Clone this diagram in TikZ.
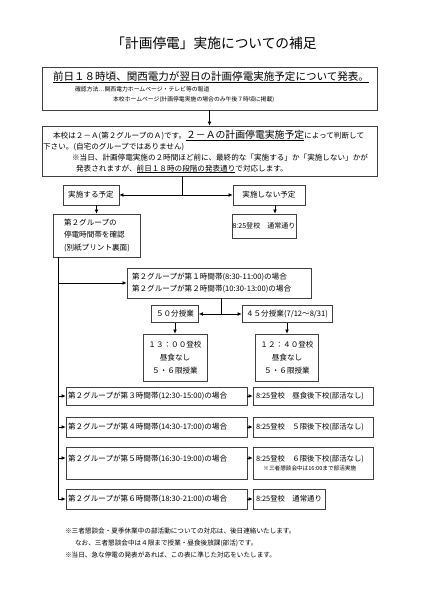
\documentclass[tikz,border=0pt]{standalone}
\usepackage{fontspec}
\setmainfont{Noto Sans CJK JP}
\usetikzlibrary{arrows.meta, positioning, calc}

\begin{document}
\begin{tikzpicture}[x=0.5mm, y=-0.5mm,
  box/.style={draw=black!75, line width=0.6pt, rectangle, inner sep=1pt},
  arr/.style={-{Latex[length=6pt,width=5.5pt]}, line width=1.4pt},
  link/.style={line width=1.4pt},
  txt/.style={font=\fontsize{10.8}{13}\selectfont},
  note/.style={anchor=base west, inner sep=0pt},
  row/.style={box, txt, align=left, inner xsep=1mm, text width=88.5mm},
  res/.style={box, align=left, inner xsep=1.5mm, text width=57mm, font=\fontsize{10.5}{13}\selectfont}]
\useasboundingbox (0,0) rectangle (420,594);

% Title
\node[font=\fontsize{19.5}{23}\selectfont] (title) at (214,43) {「計画停電」実施についての補足};

% Nodes
\node[box, minimum width=167.5mm, minimum height=21.5mm] (info) at (209.5,88.5) {};
\node[box, minimum width=167.5mm, minimum height=25mm] (rule) at (209.5,151) {};
\node[box, txt, minimum width=28mm, minimum height=10mm] (yes) at (91,195) {実施する予定};
\node[box, txt, minimum width=36mm, minimum height=10mm] (no) at (269,195) {実施しない予定};
\node[box, align=left, inner xsep=5.5mm, text width=32.5mm, minimum height=21.5mm, font=\fontsize{10.8}{17.5}\selectfont] (check) at (96.5,235.5) {第２グループの\\停電時間帯を確認\\(別紙プリント裏面)};
\node[box, font=\fontsize{10}{12}\selectfont, minimum width=32mm, minimum height=12mm] (done) at (264,226) {8:25登校　通常通り};
\node[box, align=left, inner xsep=2.5mm, text width=87mm, minimum height=15mm, font=\fontsize{10.8}{18}\selectfont] (g12) at (219,283) {第２グループが第１時間帯(8:30-11:00)の場合\\第２グループが第２時間帯(10:30-13:00)の場合};
\node[box, txt, minimum width=23.5mm, minimum height=8.5mm] (m50) at (175,314) {５０分授業};
\node[box, txt, minimum width=45mm, minimum height=8.5mm] (m45) at (287,314) {４５分授業(7/12～8/31)};
\node[box, align=center, minimum width=32mm, minimum height=23.5mm, font=\fontsize{10.8}{18}\selectfont] (t13) at (175,357.5) {１３：００登校\\昼食なし\\５・６限授業};
\node[box, align=center, minimum width=31.5mm, minimum height=23.5mm, font=\fontsize{10.8}{18}\selectfont] (t12) at (287,357.5) {１２：４０登校\\昼食なし\\５・６限授業};

\node[row, minimum height=9mm] (l1) at (156.5,396) {第２グループが第３時間帯(12:30-15:00)の場合};
\node[row, minimum height=10mm] (l2) at (156.5,427) {第２グループが第４時間帯(14:30-17:00)の場合};
\node[row, minimum height=16mm] (l3) at (156.5,463) {第２グループが第５時間帯(16:30-19:00)の場合\\\phantom{※}};
\node[row, minimum height=10mm] (l4) at (156.5,499) {第２グループが第６時間帯(18:30-21:00)の場合};
\node[res, minimum height=9mm] (r1) at (313,396) {8:25登校　昼食後下校(部活なし)};
\node[res, minimum height=10mm] (r2) at (313,427) {8:25登校　５限後下校(部活なし)};
\node[res, minimum height=16mm] (r3) at (313,463) {8:25登校　６限後下校(部活なし)\\\hspace*{1em}{\fontsize{8}{9}\selectfont ※三者懇談会中は16:00まで部活実施}};
\node[res, minimum height=10mm, text width=33mm] (r4) at (289,499) {8:25登校　通常通り};

% Arrows
\draw[arr] (info) -- (rule);
\coordinate (fork) at (182,195);
\draw[link] (rule.south -| fork) -- (fork);
\draw[arr] (fork) -- (yes);
\draw[arr] (fork) -- (no);
\draw[arr] (yes.south -| check) -- (check);
\draw[arr] ([xshift=3mm]no.south) -- ([xshift=3mm]no.south |- done.north);
\coordinate (trunk) at (58,257);
\draw[arr] (trunk) |- (l4);
\draw[arr] (trunk |- g12) -- (g12);
\draw[arr] (trunk |- l1) -- (l1);
\draw[arr] (trunk |- l2) -- (l2);
\draw[arr] ([yshift=2.5mm]l3.west -| trunk) -- ([yshift=2.5mm]l3.west);
\coordinate (split) at (221,314);
\draw[link] (g12.south -| split) -- (split);
\draw[arr] (split) -- (m50);
\draw[arr] (split) -- (m45);
\draw[arr] (m50) -- (t13);
\draw[arr] (m45) -- (t12);
\draw[arr] (l1) -- (r1);
\draw[arr] (l2) -- (r2);
\draw[arr] ([yshift=2.5mm]l3.east) -- ([yshift=2.5mm]r3.west);
\draw[arr] (l4) -- (r4);

% Annotations
\node[anchor=base, inner sep=0pt, font=\fontsize{15}{18}\selectfont] (head) at (211,80) {\underline{前日１８時頃、関西電力が翌日の計画停電実施予定について発表。}};
\node[note, font=\fontsize{8.3}{10}\selectfont] (how1) at (75,91) {確認方法…関西電力ホームページ・テレビ等の報道};
\node[note, font=\fontsize{8.3}{10}\selectfont] (how2) at (113,101) {本校ホームページ(計画停電実施の場合のみ午後７時頃に掲載)};
\node[note, txt] (rule1) at (53,138) {本校は２－Ａ(第２グループのＡ)です。{\fontsize{14}{16}\selectfont\underline{２－Ａの計画停電実施予定}}によって判断して};
\node[note, txt] (rule2) at (43,149) {下さい。(自宅のグループではありません)};
\node[note, txt] (rule3) at (72,160) {※当日、計画停電実施の２時間ほど前に、最終的な「実施する」か「実施しない」かが};
\node[note, txt] (rule4) at (76,171) {発表されますが、\underline{前日１８時の段階の発表通り}で対応します。};
\node[note, font=\fontsize{9.4}{11}\selectfont] (memo1) at (65,533.5) {※三者懇談会・夏季休業中の部活動についての対応は、後日連絡いたします。};
\node[note, font=\fontsize{9.4}{11}\selectfont] (memo2) at (75,545.5) {なお、三者懇談会中は４限まで授業・昼食後放課(部活)です。};
\node[note, font=\fontsize{9.4}{11}\selectfont] (memo3) at (65,557.5) {※当日、急な停電の発表があれば、この表に準じた対応をいたします。};
\end{tikzpicture}
\end{document}
